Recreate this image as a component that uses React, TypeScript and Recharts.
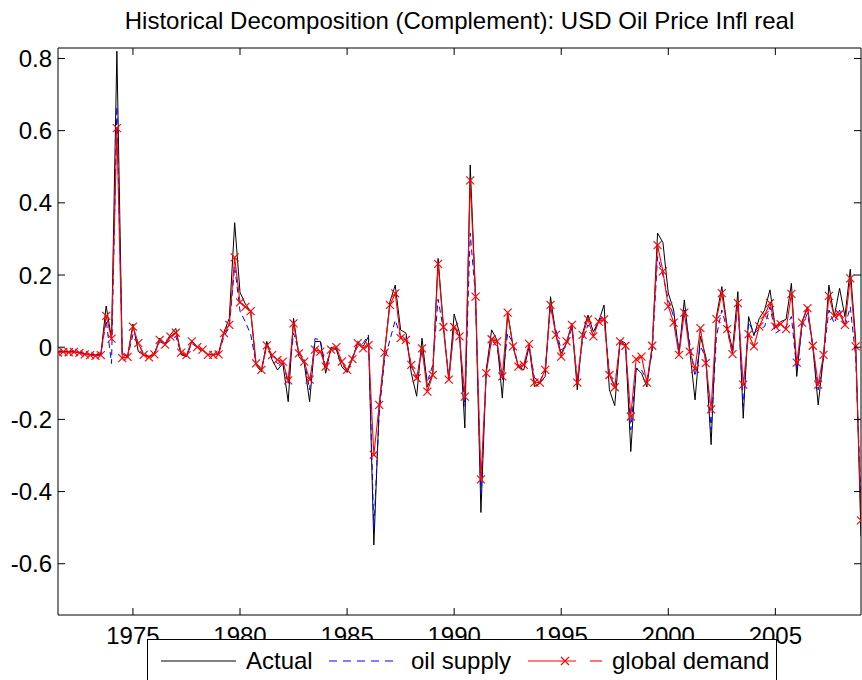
import React from "react";
import { Line, LineChart, XAxis, YAxis } from "recharts";

const FONT = "'Liberation Sans', Arial, Helvetica, sans-serif";
const BLACK = "#000000";
const BLUE = "#0000ff";
const RED = "#ff0000";

// quarterly observations, first one is 1971.5 on the time axis
const START_YEAR = 1971.5;
const X_TICKS = [1975, 1980, 1985, 1990, 1995, 2000, 2005];
const Y_TICKS = [-0.6, -0.4, -0.2, 0, 0.2, 0.4, 0.6, 0.8];
const X_DOMAIN = [1971.5, 2009.0];
const Y_DOMAIN = [-0.742, 0.829];

const ACTUAL = [
  -0.012, -0.012, -0.013, -0.012, -0.015, -0.018, -0.02, -0.021, -0.02, 0.114,
  0.024, 0.82, -0.02, -0.025, 0.064, -0.012, -0.022, -0.025, -0.02, 0.025,
  0.01, 0.035, 0.052, -0.021, -0.026, 0.018, 0.0, -0.008, -0.02, -0.022,
  -0.016, 0.042, 0.08, 0.345, 0.152, 0.12, 0.099, -0.05, -0.068, 0.016,
  -0.035, -0.063, -0.045, -0.151, 0.08, -0.026, -0.045, -0.151, 0.016, 0.016,
  -0.072, 0.0, -0.007, -0.054, -0.07, -0.033, 0.016, 0.002, 0.03, -0.548,
  -0.164, -0.017, 0.126, 0.172, 0.048, 0.039, -0.072, -0.136, 0.025, -0.11,
  -0.075, 0.246, 0.057, -0.09, 0.092, 0.039, -0.224, 0.505, 0.14, -0.458,
  -0.063, 0.048, 0.02, -0.141, 0.094, 0.002, -0.054, -0.063, 0.002, -0.109,
  -0.1, -0.081, 0.14, 0.034, -0.017, 0.011, 0.066, -0.118, 0.039, 0.089,
  0.043, 0.071, 0.117, -0.118, -0.162, 0.02, 0.011, -0.289, -0.058, -0.072,
  -0.11, 0.002, 0.316, 0.29, 0.15, 0.103, -0.017, 0.131, -0.007, -0.146,
  0.03, -0.026, -0.27, 0.085, 0.168, 0.057, -0.007, 0.154, -0.197, 0.085,
  0.032, 0.08, 0.103, 0.159, 0.053, 0.071, 0.077, 0.177, -0.081, 0.071,
  0.112, 0.002, -0.16, -0.026, 0.172, 0.085, 0.163, 0.085, 0.216, 0.02,
  -0.524,
];

const OIL_SUPPLY = [
  -0.012, -0.011, -0.012, -0.01, -0.014, -0.018, -0.02, -0.02, -0.02, 0.075,
  -0.045, 0.667, -0.015, -0.028, 0.035, 0.012, -0.018, -0.028, -0.015, 0.015,
  0.008, 0.02, 0.03, -0.018, -0.024, 0.01, 0.0, -0.008, -0.02, -0.02,
  -0.018, 0.03, 0.055, 0.224, 0.1, 0.07, 0.035, -0.045, -0.06, 0.006,
  -0.026, -0.045, -0.04, -0.1, 0.039, -0.012, -0.035, -0.118, 0.024, 0.02,
  -0.056, -0.003, -0.003, -0.04, -0.068, -0.026, 0.002, 0.011, 0.034, -0.506,
  -0.183, -0.035, 0.02, 0.075, 0.029, 0.029, -0.054, -0.081, -0.01, -0.095,
  -0.05, 0.133, 0.048, -0.09, 0.06, 0.03, -0.164, 0.316, 0.14, -0.405,
  -0.063, 0.02, 0.002, -0.09, 0.039, 0.011, -0.054, -0.054, 0.006, -0.085,
  -0.095, -0.063, 0.112, 0.048, -0.007, 0.002, 0.053, -0.09, 0.02, 0.062,
  0.034, 0.076, 0.085, -0.072, -0.109, 0.011, 0.002, -0.229, -0.058, -0.063,
  -0.09, -0.015, 0.251, 0.2, 0.131, 0.085, -0.007, 0.103, 0.011, -0.081,
  0.002, -0.026, -0.229, 0.03, 0.103, 0.048, -0.017, 0.122, -0.165, 0.07,
  0.039, 0.05, 0.057, 0.112, 0.039, 0.048, 0.057, 0.085, -0.063, 0.057,
  0.094, 0.002, -0.118, -0.026, 0.103, 0.066, 0.103, 0.057, 0.112, -0.026,
  -0.432,
];

const GLOBAL_DEMAND = [
  -0.015, -0.013, -0.014, -0.013, -0.016, -0.02, -0.022, -0.024, -0.022, 0.087,
  0.024, 0.607, -0.03, -0.027, 0.057, 0.011, -0.021, -0.028, -0.02, 0.02,
  0.007, 0.029, 0.04, -0.015, -0.022, 0.016, 0.0, -0.007, -0.021, -0.021,
  -0.02, 0.039, 0.062, 0.249, 0.124, 0.112, 0.1, -0.045, -0.063, 0.005,
  -0.022, -0.035, -0.04, -0.092, 0.066, -0.017, -0.04, -0.09, -0.007, -0.012,
  -0.054, -0.007, 0.0, -0.04, -0.063, -0.033, 0.011, -0.003, 0.006, -0.298,
  -0.16, -0.015, 0.117, 0.149, 0.025, 0.02, -0.049, -0.086, -0.003, -0.123,
  -0.077, 0.231, 0.056, -0.09, 0.056, 0.03, -0.137, 0.462, 0.14, -0.366,
  -0.072, 0.022, 0.016, -0.081, 0.096, 0.002, -0.054, -0.049, 0.009, -0.098,
  -0.098, -0.063, 0.117, 0.034, -0.026, 0.016, 0.062, -0.098, 0.034, 0.077,
  0.03, 0.071, 0.077, -0.077, -0.111, 0.016, 0.004, -0.192, -0.033, -0.026,
  -0.098, 0.004, 0.283, 0.21, 0.113, 0.068, -0.021, 0.096, -0.012, -0.06,
  0.053, -0.044, -0.172, 0.078, 0.15, 0.05, -0.019, 0.122, -0.104, 0.036,
  0.002, 0.058, 0.089, 0.122, 0.057, 0.064, 0.05, 0.148, -0.043, 0.068,
  0.108, 0.004, -0.104, -0.021, 0.142, 0.087, 0.092, 0.062, 0.191, 0.002,
  -0.48,
];

const rows = ACTUAL.map((v, i) => ({
  t: START_YEAR + i * 0.25,
  actual: v,
  supply: OIL_SUPPLY[i],
  demand: GLOBAL_DEMAND[i],
}));

const TICK_LEN = 7;

// ticks point inward, like the matlab box axes
function LeftTick({ x, y, payload }: any) {
  return (
    <g>
      <line x1={x} x2={x + TICK_LEN} y1={y} y2={y} stroke={BLACK} />
      <text x={x - 6} y={y} dy="0.36em" textAnchor="end" fontSize={24} fontFamily={FONT} fill={BLACK}>
        {String(payload.value)}
      </text>
    </g>
  );
}

function RightTick({ x, y }: any) {
  return <line x1={x} x2={x - TICK_LEN} y1={y} y2={y} stroke={BLACK} />;
}

function BottomTick({ x, y, payload }: any) {
  return (
    <g>
      <line x1={x} x2={x} y1={y} y2={y - TICK_LEN} stroke={BLACK} />
      <text x={x} y={y + 29} textAnchor="middle" fontSize={24} fontFamily={FONT} fill={BLACK}>
        {payload.value}
      </text>
    </g>
  );
}

function TopTick({ x, y }: any) {
  return <line x1={x} x2={x} y1={y} y2={y + TICK_LEN} stroke={BLACK} />;
}

function Cross(props: any) {
  const { cx, cy } = props;
  if (cx == null || cy == null) return <g />;
  const r = 4;
  return (
    <path
      d={`M${cx - r},${cy - r}L${cx + r},${cy + r}M${cx - r},${cy + r}L${cx + r},${cy - r}`}
      stroke={RED}
      strokeWidth={1.1}
      fill="none"
    />
  );
}

function LegendBox() {
  return (
    <div
      style={{
        position: "absolute",
        left: 147,
        top: 639,
        width: 630,
        height: 60,
        background: "#fff",
        border: `1px solid ${BLACK}`,
        boxSizing: "border-box",
      }}
    >
      <svg width={630} height={60} style={{ display: "block" }}>
        <g fontFamily={FONT} fontSize={24} fill={BLACK}>
          <line x1={13} x2={88} y1={21} y2={21} stroke={BLACK} />
          <text x={98} y={29}>Actual</text>
          <line x1={181} x2={251} y1={21} y2={21} stroke={BLUE} strokeDasharray="8 6" />
          <text x={263} y={29}>oil supply</text>
          <line x1={380} x2={428} y1={21} y2={21} stroke={RED} strokeWidth={1.1} />
          <Cross cx={417} cy={21} />
          <line x1={442} x2={454} y1={21} y2={21} stroke={RED} strokeWidth={1.1} />
          <text x={464} y={29}>global demand</text>
        </g>
      </svg>
    </div>
  );
}

export default function App() {
  return (
    <div
      style={{
        position: "absolute",
        left: 0,
        top: 0,
        width: 862,
        height: 680,
        overflow: "hidden",
        background: "#fff",
        fontFamily: FONT,
      }}
    >
      <div
        style={{
          position: "absolute",
          left: 58,
          top: 9,
          width: 803,
          textAlign: "center",
          fontSize: 24,
          lineHeight: "24px",
          color: BLACK,
        }}
      >
        Historical Decomposition (Complement): USD Oil Price Infl real
      </div>
      <LineChart
        width={862}
        height={680}
        data={rows}
        margin={{ top: 47, right: 0, bottom: 0, left: 0 }}
      >
        <XAxis
          dataKey="t"
          type="number"
          domain={X_DOMAIN}
          ticks={X_TICKS}
          allowDataOverflow
          height={65}
          tickSize={0}
          tickMargin={0}
          axisLine={{ stroke: BLACK }}
          tick={<BottomTick />}
          interval={0}
        />
        <XAxis
          xAxisId="top"
          orientation="top"
          dataKey="t"
          type="number"
          domain={X_DOMAIN}
          ticks={X_TICKS}
          allowDataOverflow
          height={1}
          tickSize={0}
          tickMargin={0}
          axisLine={{ stroke: BLACK }}
          tick={<TopTick />}
          interval={0}
        />
        <YAxis
          type="number"
          domain={Y_DOMAIN}
          ticks={Y_TICKS}
          allowDataOverflow
          width={58}
          tickSize={0}
          tickMargin={0}
          axisLine={{ stroke: BLACK }}
          tick={<LeftTick />}
          interval={0}
        />
        <YAxis
          yAxisId="right"
          orientation="right"
          type="number"
          domain={Y_DOMAIN}
          ticks={Y_TICKS}
          allowDataOverflow
          width={1}
          tickSize={0}
          tickMargin={0}
          axisLine={{ stroke: BLACK }}
          tick={<RightTick />}
          interval={0}
        />
        <Line
          type="linear"
          dataKey="actual"
          stroke={BLACK}
          strokeWidth={1}
          dot={false}
          activeDot={false}
          isAnimationActive={false}
        />
        <Line
          type="linear"
          dataKey="supply"
          stroke={BLUE}
          strokeWidth={1}
          strokeDasharray="6 4"
          dot={false}
          activeDot={false}
          isAnimationActive={false}
        />
        <Line
          type="linear"
          dataKey="demand"
          stroke={RED}
          strokeWidth={1.1}
          dot={(p: any) => <Cross key={`x-${p.index}`} {...p} />}
          activeDot={false}
          isAnimationActive={false}
        />
      </LineChart>
      <LegendBox />
    </div>
  );
}
